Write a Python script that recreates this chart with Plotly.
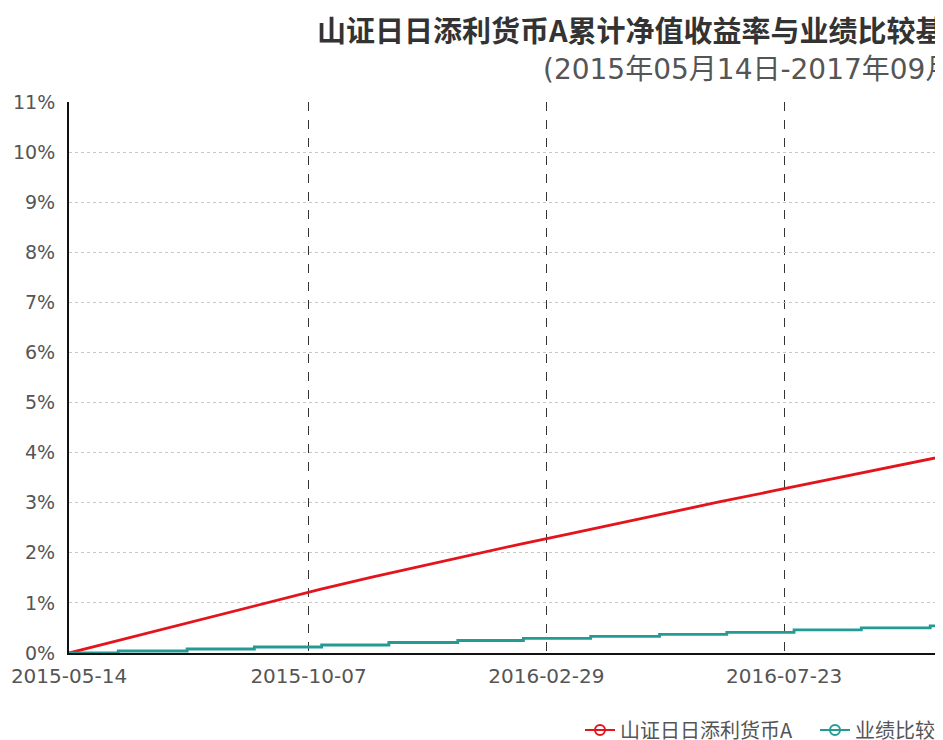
import plotly.graph_objects as go

# ---- data ----
fund_name = "山证日日添利货币A"
bench_name = "业绩比较基准"

fund_dates = ["2015-05-14", "2015-06-14", "2015-07-14", "2015-08-14", "2015-09-14",
              "2015-10-14", "2015-11-14", "2015-12-14", "2016-01-14", "2016-02-14",
              "2016-03-14", "2016-04-14", "2016-05-14", "2016-06-14", "2016-07-14",
              "2016-08-14", "2016-09-14", "2016-10-14", "2016-11-14"]
fund_values = [0.00, 0.26, 0.51, 0.77, 1.02, 1.27, 1.51, 1.73, 1.96, 2.18,
               2.38, 2.60, 2.81, 3.02, 3.22, 3.43, 3.63, 3.84, 4.04]

bench_dates = ["2015-05-14", "2015-06-13", "2015-07-25", "2015-09-04", "2015-10-15",
               "2015-11-25", "2016-01-06", "2016-02-15", "2016-03-27", "2016-05-08",
               "2016-06-18", "2016-07-29", "2016-09-08", "2016-10-20", "2016-11-14"]
bench_values = [0.00, 0.04, 0.08, 0.12, 0.16, 0.21, 0.25, 0.29, 0.33, 0.37,
                0.41, 0.46, 0.50, 0.54, 0.54]

x_tick_vals = ["2015-05-14", "2015-10-07", "2016-02-29", "2016-07-23"]
y_tick_vals = [0, 1, 2, 3, 4, 5, 6, 7, 8, 9, 10, 11]
y_tick_text = [f"{v}%" for v in y_tick_vals]

title_text = "山证日日添利货币A累计净值收益率与业绩比较基准收益率走势对比"
subtitle_text = "(2015年05月14日-2017年09月15日)"

RED = "#e3141b"
TEAL = "#249a94"

# figure geometry (page has an 8px body margin)
W, H = 935, 732
L, T, B = 61, 94, 87
PH = H - T - B  # plot height
PW = W - L      # plot width

fig = go.Figure()
fig.add_trace(go.Scatter(x=fund_dates, y=fund_values, mode="lines",
                         line=dict(color=RED, width=2.8), showlegend=False))
fig.add_trace(go.Scatter(x=bench_dates, y=bench_values, mode="lines",
                         line=dict(color=TEAL, width=2.8, shape="hv"), showlegend=False))
# legend-only entries
fig.add_trace(go.Scatter(x=[None], y=[None], mode="lines+markers", name=fund_name,
                         line=dict(color=RED, width=2),
                         marker=dict(symbol="circle-open", size=10, color=RED,
                                     line=dict(width=2))))
fig.add_trace(go.Scatter(x=[None], y=[None], mode="lines+markers", name=bench_name,
                         line=dict(color=TEAL, width=2),
                         marker=dict(symbol="circle-open", size=10, color=TEAL,
                                     line=dict(width=2))))

fig.update_layout(
    width=W, height=H,
    margin=dict(l=L, r=0, t=T, b=B, autoexpand=False),
    paper_bgcolor="white", plot_bgcolor="white",
    title=dict(text=title_text, x=309 / W, xanchor="left", xref="container",
               y=1 - 24 / H, yanchor="middle", yref="container",
               font=dict(family="Noto Sans CJK SC", size=29, color="#333333",
                         weight="bold")),
    annotations=[dict(text=subtitle_text, xref="paper", yref="paper",
                      x=(533 - L) / PW, y=1 + (T - 62) / PH,
                      xanchor="left", yanchor="middle", showarrow=False,
                      font=dict(family="DejaVu Sans, Noto Sans CJK SC", size=28,
                                color="#555555"))],
    xaxis=dict(type="date", range=["2015-05-14", "2016-10-27 19:00"],
               tickvals=x_tick_vals, ticktext=x_tick_vals,
               showgrid=True, gridcolor="#333333", griddash="dash", gridwidth=1,
               showline=True, linecolor="#111111", linewidth=2,
               ticks="outside", ticklen=4, tickcolor="rgba(0,0,0,0)",
               tickfont=dict(family="DejaVu Sans", size=20, color="#555555"),
               zeroline=False),
    yaxis=dict(range=[0, 11], tickvals=y_tick_vals, ticktext=y_tick_text,
               showgrid=True, gridcolor="#c8c8c8", griddash="dot", gridwidth=1,
               showline=True, linecolor="#111111", linewidth=2,
               ticks="outside", ticklen=8, tickcolor="rgba(0,0,0,0)",
               tickfont=dict(family="DejaVu Sans", size=19, color="#555555"),
               zeroline=False),
    legend=dict(orientation="h", x=(572 - L) / PW, xanchor="left",
                y=-(722 - (H - B)) / PH, yanchor="middle",
                font=dict(family="Noto Sans CJK SC", size=20, color="#555555"),
                itemwidth=30, entrywidth=190, bgcolor="rgba(0,0,0,0)"),
    showlegend=True,
)

fig.write_html("out.html")
